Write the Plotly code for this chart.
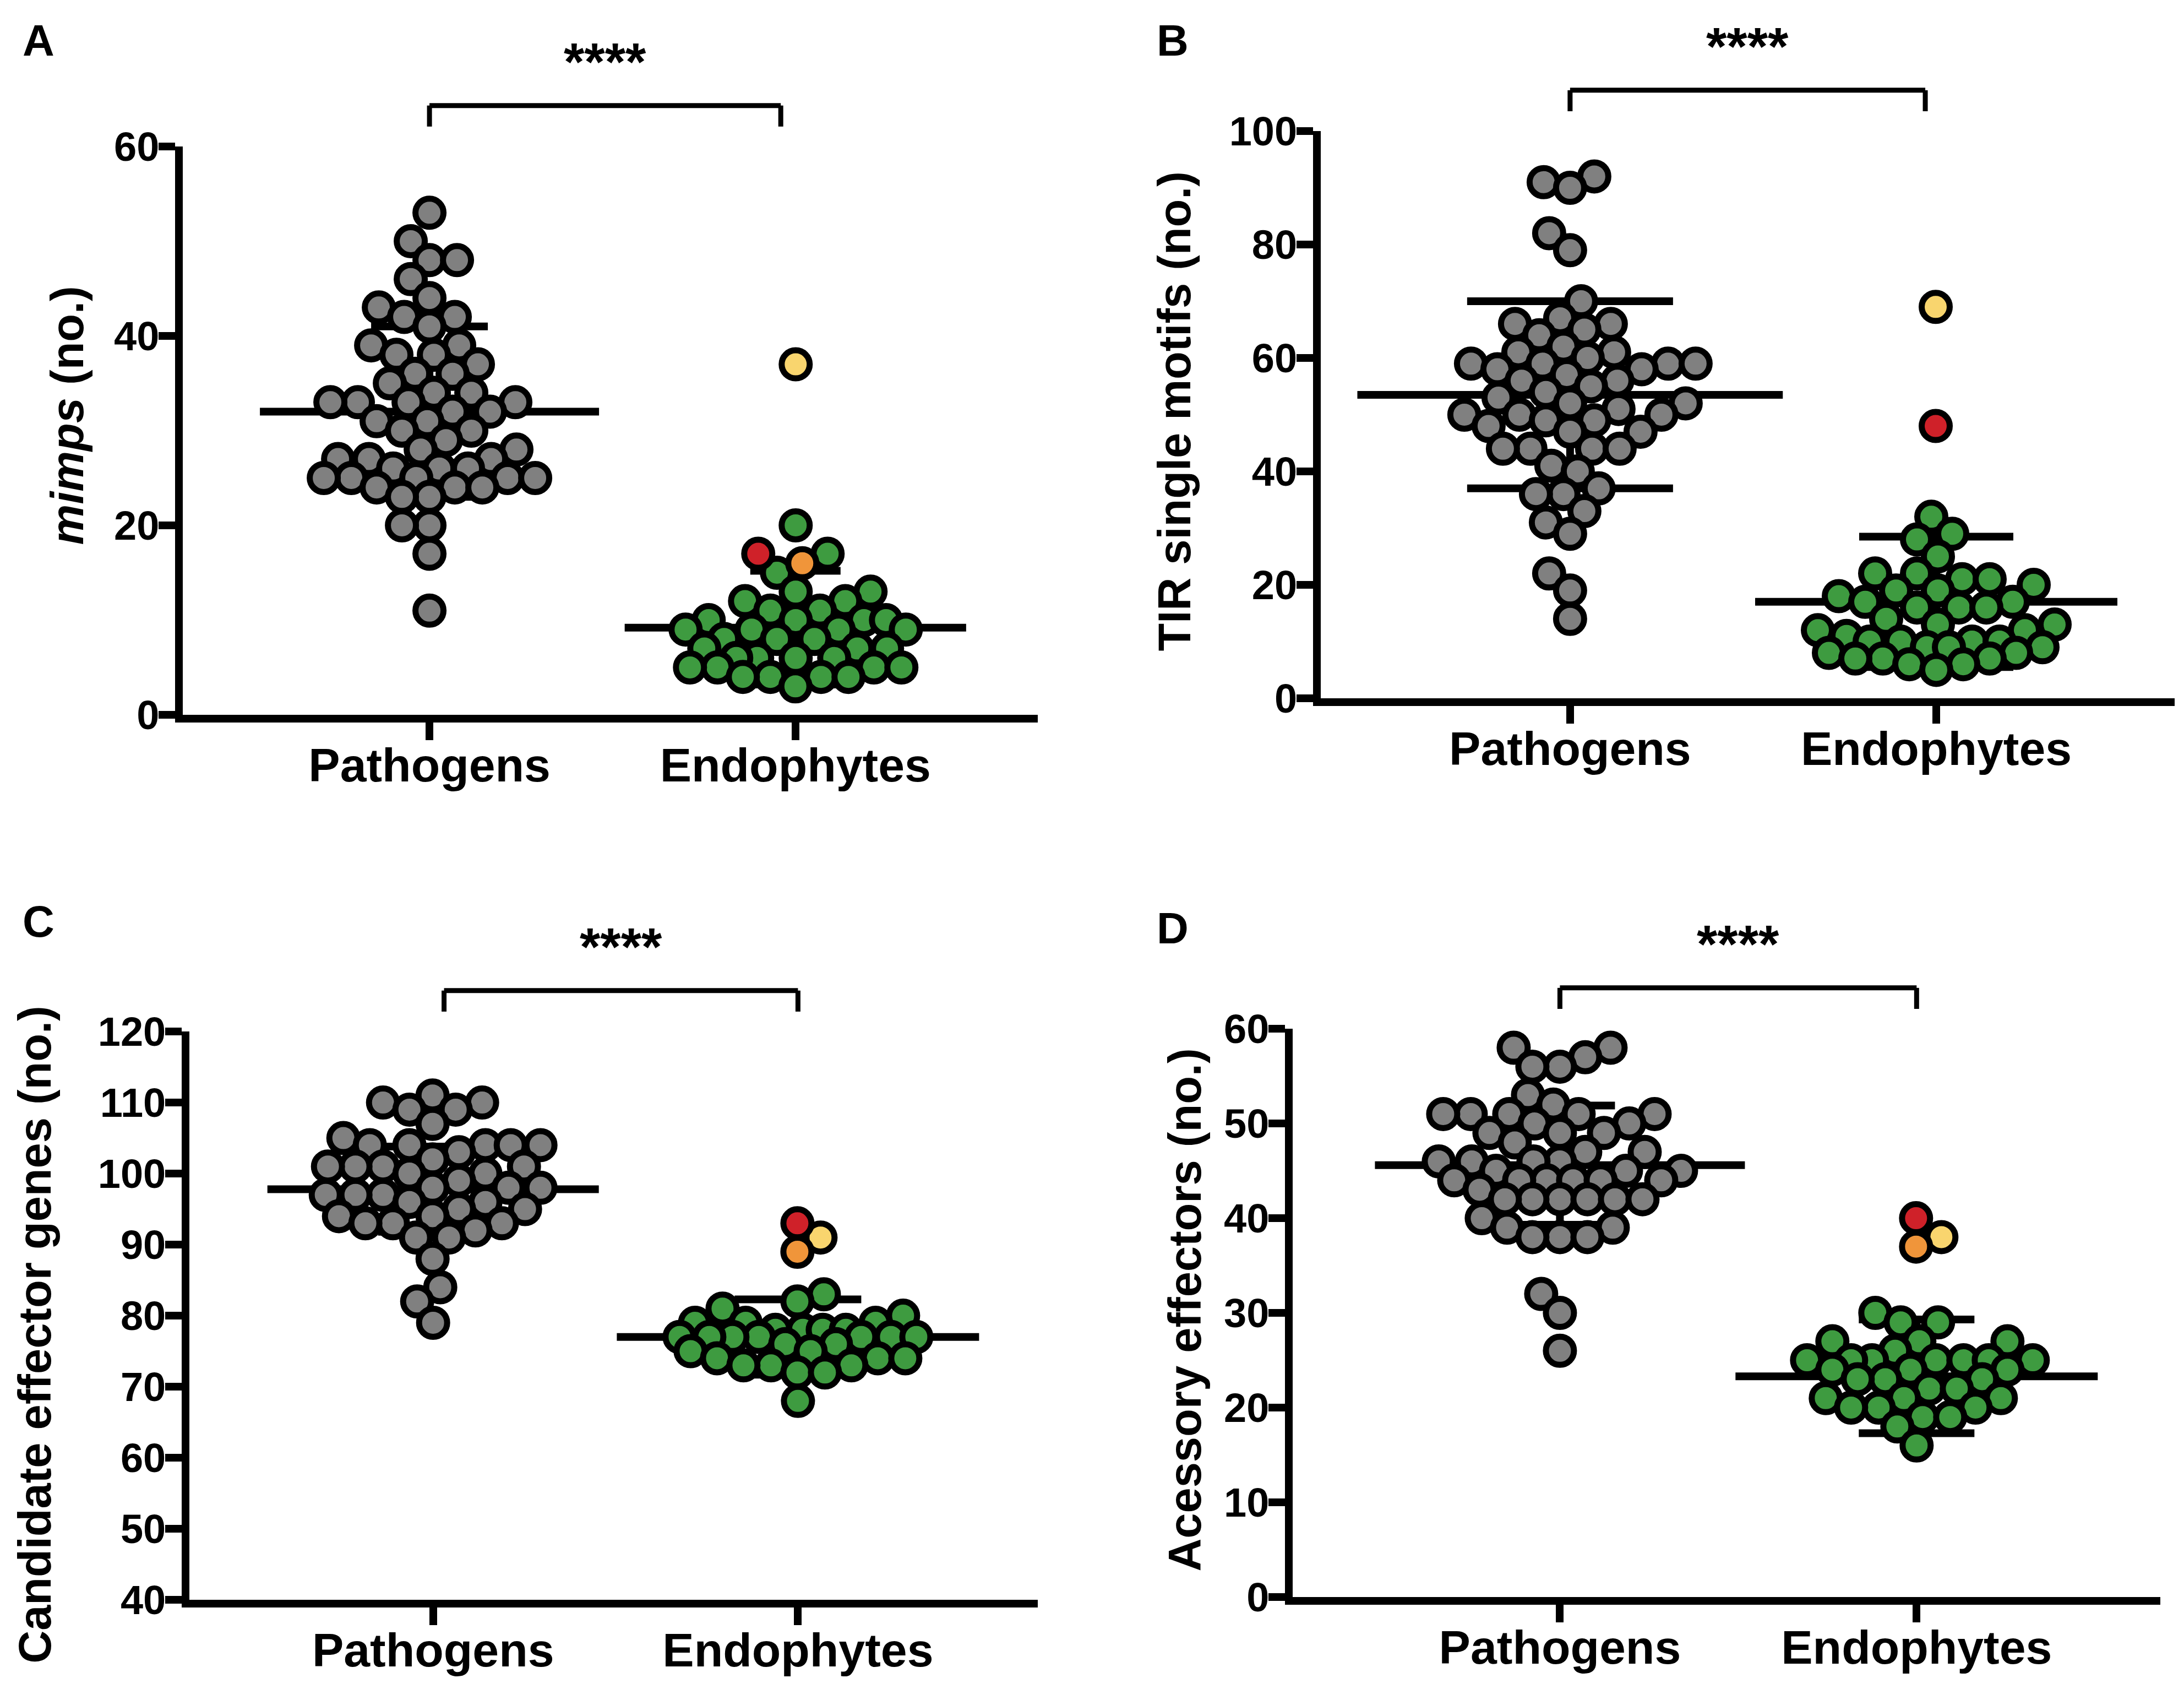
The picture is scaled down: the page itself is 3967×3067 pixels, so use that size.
import numpy as np
import plotly.graph_objects as go

# ---- data ----
categories = ["Pathogens", "Endophytes"]

a_pathogens = [53, 50, 48, 48, 46, 44, 43, 42, 42, 41, 39, 39, 38, 38, 37, 36, 36, 35, 34, 34,
               33, 33, 33, 33, 32, 32, 31, 31, 30, 30, 29, 28, 28, 27, 27, 27, 26, 26, 26, 25,
               25, 25, 25, 25, 24, 24, 24, 23, 23, 20, 20, 17, 11]
a_endophytes = [20, 17, 15, 13, 13, 12, 12, 11, 11, 10, 10, 10, 10, 9, 9, 9, 9, 8, 8, 8, 7, 7, 7,
                6, 6, 6, 6, 5, 5, 5, 5, 4, 4, 4, 4, 3]
a_highlight = [37, 16, 17]
a_mean = [32.0, 9.2]
a_sd = [9.0, 6.0]

b_pathogens = [92, 91, 90, 82, 79, 70, 67, 66, 66, 65, 64, 62, 61, 61, 60, 59, 59, 59, 59, 58,
               58, 57, 56, 56, 55, 54, 53, 52, 52, 51, 50, 50, 50, 49, 49, 48, 47, 47, 44, 44,
               44, 44, 41, 40, 37, 36, 36, 33, 31, 29, 22, 19, 14]
b_endophytes = [32, 29, 28, 25, 22, 22, 21, 21, 20, 19, 19, 18, 17, 17, 16, 16, 16, 14, 13, 13,
                12, 12, 11, 10, 10, 10, 10, 9, 9, 9, 8, 8, 7, 7, 7, 6, 6, 5]
b_highlight = [69, 48]
b_mean = [53.5, 17.0]
b_sd = [16.5, 11.5]

c_pathogens = [111, 110, 110, 109, 109, 107, 105, 104, 104, 104, 104, 104, 103, 102, 101, 101,
               101, 101, 100, 100, 99, 98, 98, 98, 97, 97, 97, 96, 96, 95, 95, 94, 94, 93, 93,
               93, 92, 91, 91, 88, 84, 82, 79]
c_endophytes = [83, 82, 81, 80, 79, 79, 79, 78, 78, 78, 78, 77, 77, 77, 77, 77, 77, 77, 76, 76,
                75, 75, 74, 74, 74, 73, 73, 73, 72, 72, 68]
c_highlight = [91, 89, 93]
c_mean = [97.8, 77.0]
c_sd = [6.0, 5.3]

d_pathogens = [58, 58, 57, 56, 56, 53, 52, 51, 51, 51, 51, 51, 50, 50, 49, 49, 49, 48, 47, 47,
               46, 46, 46, 46, 45, 45, 45, 44, 44, 44, 44, 44, 44, 43, 42, 42, 42, 42, 42, 42,
               40, 39, 39, 38, 38, 38, 32, 30, 26]
d_endophytes = [30, 29, 29, 27, 27, 27, 26, 25, 25, 25, 25, 25, 25, 25, 24, 24, 24, 23, 23, 23,
                22, 22, 21, 21, 21, 20, 20, 20, 19, 19, 18, 16]
d_highlight = [38, 37, 40]
d_mean = [45.6, 23.3]
d_sd = [6.3, 6.0]

y_titles = ["<i>mimps</i> (no.)", "TIR single motifs (no.)",
            "Candidate effector genes (no.)", "Acessory effectors (no.)"]
panel_letters = ["A", "B", "C", "D"]
significance = "****"

# ---- styling ----
W, H = 3967, 3067
FONT = "Liberation Sans"
GREY = "#808080"
GREEN = "#3E9B40"
HL_COLORS = {2: ["#F9D56E", "#CF2129"], 3: ["#F9D56E", "#F0953A", "#CF2129"]}
MARKER_D = 62          # visual marker diameter (px)
OUTLINE = 11
SWARM_D = 0.78 * MARKER_D
LW = 14                # axis / error bar line width

panels = [
    dict(path=a_pathogens, endo=a_endophytes, hl=a_highlight, mean=a_mean, sd=a_sd,
         xdom=[0.0817, 0.4731], ydom=[0.5794, 0.9159], xr=[-0.674, 1.662], yr=[0, 60], dtick=20,
         mlen=[440, 443], cap=[106, 82], br=[0, 0.96], tx=-0.135, ty=0.527, letter=(0.0156, 0.9788)),
    dict(path=b_pathogens, endo=b_endophytes, hl=b_highlight, mean=b_mean, sd=b_sd,
         xdom=[0.6027, 0.9937], ydom=[0.5892, 0.9250], xr=[-0.681, 1.651], yr=[0, 100], dtick=20,
         mlen=[552, 470], cap=[187, 140], br=[0, 0.97], tx=-0.171, ty=0.506, letter=(0.5350, 0.9788)),
    dict(path=c_pathogens, endo=c_endophytes, hl=c_highlight, mean=c_mean, sd=c_sd,
         xdom=[0.0847, 0.4731], ydom=[0.0554, 0.3919], xr=[-0.668, 1.657], yr=[40, 120], dtick=10,
         mlen=[430, 470], cap=[100, 115], br=[0.03, 1.0], tx=-0.182, ty=0.466, letter=(0.0156, 0.4570)),
    dict(path=d_pathogens, endo=d_endophytes, hl=d_highlight, mean=d_mean, sd=d_sd,
         xdom=[0.5899, 0.9871], ydom=[0.0571, 0.3935], xr=[-0.749, 1.683], yr=[0, 60], dtick=10,
         mlen=[480, 470], cap=[100, 105], br=[0, 1.0], tx=-0.124, ty=0.505, letter=(0.5350, 0.4530)),
]


def swarm(values, px_y, px_x, d, maxw):
    # bounded beeswarm: nearest free slot to the centre, overlap allowed once the row is full
    vals = np.asarray(values, dtype=float)
    xs = np.zeros(len(vals))
    placed = []
    grid = np.arange(-maxw, maxw + 0.1, 2.0)
    grid = grid[np.argsort(np.abs(grid), kind="stable")]
    for i in np.argsort(vals, kind="stable"):
        y = vals[i] * px_y
        if placed:
            P = np.array(placed)
            dist = np.sqrt((grid[:, None] - P[None, :, 0]) ** 2 + (y - P[None, :, 1]) ** 2).min(axis=1)
            ok = np.where(dist >= d)[0]
            c = grid[ok[0]] if len(ok) else grid[np.argmax(dist)]
        else:
            c = 0.0
        placed.append((c, y))
        xs[i] = c / px_x
    return xs


fig = go.Figure()
layout = dict(width=W, height=H, margin=dict(l=0, r=0, t=0, b=0, pad=0, autoexpand=False),
              paper_bgcolor="white", plot_bgcolor="white", showlegend=False)
annotations, shapes = [], []

for k, p in enumerate(panels):
    n = "" if k == 0 else str(k + 1)
    xa, ya = "x" + n, "y" + n
    px_x = (p["xdom"][1] - p["xdom"][0]) * W / (p["xr"][1] - p["xr"][0])
    px_y = (p["ydom"][1] - p["ydom"][0]) * H / (p["yr"][1] - p["yr"][0])

    # mean +/- SD, one trace per group so each gets its own cap width
    for g in range(2):
        fig.add_trace(go.Scatter(
            x=[g], y=[p["mean"][g]], xaxis=xa, yaxis=ya, mode="markers", cliponaxis=False,
            marker=dict(symbol="line-ew", size=p["mlen"][g], color="black",
                        line=dict(color="black", width=LW)),
            error_y=dict(type="data", array=[p["sd"][g]], visible=True, color="black",
                         thickness=LW, width=p["cap"][g]),
            hoverinfo="skip"))

    # pathogens
    xp = swarm(p["path"], px_y, px_x, SWARM_D, p["mlen"][0] / 2 - 20)
    fig.add_trace(go.Scatter(
        x=xp, y=p["path"], xaxis=xa, yaxis=ya, mode="markers", cliponaxis=False,
        marker=dict(size=MARKER_D - OUTLINE, color=GREY, line=dict(color="black", width=OUTLINE)),
        name=categories[0]))

    # endophytes (green + highlighted strains)
    allv = list(p["endo"]) + list(p["hl"])
    xe = swarm(allv, px_y, px_x, SWARM_D, p["mlen"][1] / 2 - 20) + 1
    ng = len(p["endo"])
    fig.add_trace(go.Scatter(
        x=xe[:ng], y=p["endo"], xaxis=xa, yaxis=ya, mode="markers", cliponaxis=False,
        marker=dict(size=MARKER_D - OUTLINE, color=GREEN, line=dict(color="black", width=OUTLINE)),
        name=categories[1]))
    fig.add_trace(go.Scatter(
        x=xe[ng:], y=p["hl"], xaxis=xa, yaxis=ya, mode="markers", cliponaxis=False,
        marker=dict(size=MARKER_D - OUTLINE, color=HL_COLORS[len(p["hl"])],
                    line=dict(color="black", width=OUTLINE)),
        name=categories[1]))

    layout["xaxis" + n] = dict(
        domain=p["xdom"], anchor=ya, range=p["xr"], tickvals=[0, 1], ticktext=categories,
        showline=True, linewidth=LW, linecolor="black", ticks="outside", ticklen=32,
        tickwidth=LW, tickcolor="black", showgrid=False, zeroline=False, automargin=False,
        ticklabelstandoff=-28,
        tickfont=dict(family=FONT, size=86, color="black", weight="bold"))
    layout["yaxis" + n] = dict(
        domain=p["ydom"], anchor=xa, range=p["yr"], dtick=p["dtick"], tick0=0,
        showline=True, linewidth=LW, linecolor="black", ticks="outside", ticklen=30,
        tickwidth=LW, tickcolor="black", showgrid=False, zeroline=False, ticklabelstandoff=-16,
        automargin=False,
        tickfont=dict(family=FONT, size=74, color="black", weight="bold"))

    # significance bracket
    xr0, xr1 = p["br"]
    span = p["xr"][1] - p["xr"][0]
    fx0 = (xr0 - p["xr"][0]) / span
    fx1 = (xr1 - p["xr"][0]) / span
    for x0, y0, x1, y1 in [(fx0, 1.072, fx1, 1.072), (fx0, 1.072, fx0, 1.035),
                           (fx1, 1.072, fx1, 1.035)]:
        shapes.append(dict(type="line", xref=xa + " domain", yref=ya + " domain",
                           x0=x0, y0=y0, x1=x1, y1=y1,
                           line=dict(color="black", width=9)))
    annotations.append(dict(xref=xa + " domain", yref=ya + " domain", x=(fx0 + fx1) / 2,
                            y=1.15, text=significance, showarrow=False, xanchor="center",
                            yanchor="middle",
                            font=dict(family=FONT, size=96, color="black", weight="bold")))
    # y axis title
    annotations.append(dict(xref=xa + " domain", yref=ya + " domain", x=p["tx"], y=p["ty"],
                            text=y_titles[k], textangle=-90, showarrow=False,
                            xanchor="center", yanchor="middle",
                            font=dict(family=FONT, size=83, color="black", weight="bold")))
    # panel letter
    annotations.append(dict(xref="paper", yref="paper", x=p["letter"][0], y=p["letter"][1],
                            text=panel_letters[k], showarrow=False, xanchor="center",
                            yanchor="middle",
                            font=dict(family=FONT, size=80, color="black", weight="bold")))

layout["annotations"] = annotations
layout["shapes"] = shapes
fig.update_layout(**layout)

fig.write_html("out.html")
